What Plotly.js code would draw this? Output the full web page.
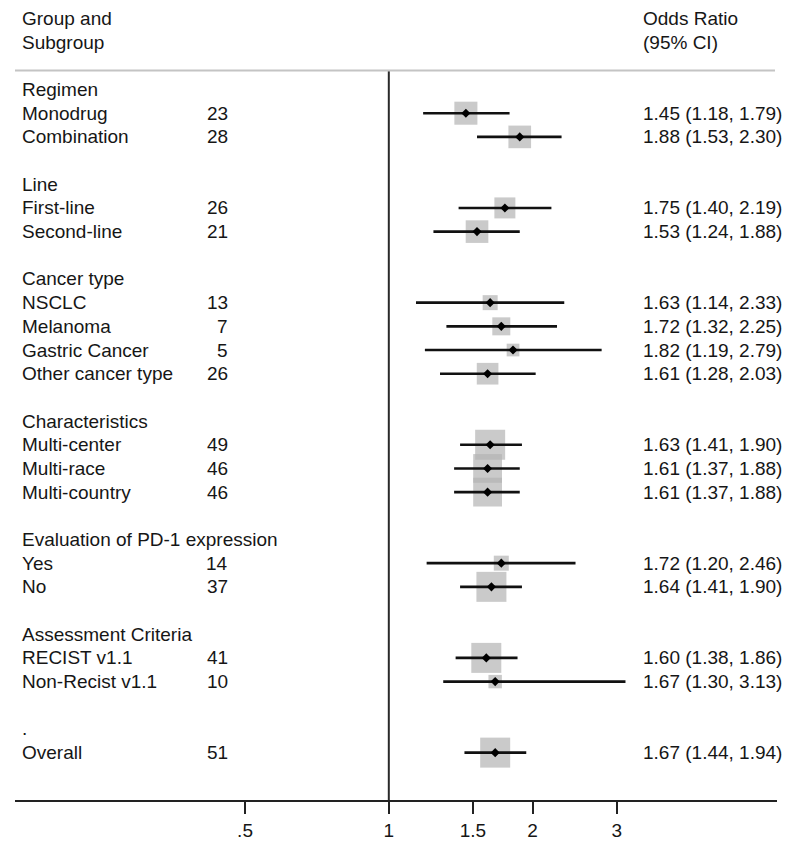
<!DOCTYPE html>
<html>
<head>
<meta charset="utf-8">
<script src="https://cdn.plot.ly/plotly-3.0.1.min.js"></script>
<style>html,body{margin:0;padding:0;background:#fff;}#chart{width:794px;height:841px;}</style>
</head>
<body>
<div id="chart"></div>
<script>
// ---- data ----
const rowLabels = ["Regimen","Monodrug","Combination","",
  "Line","First-line","Second-line","",
  "Cancer type","NSCLC","Melanoma","Gastric Cancer","Other cancer type","",
  "Characteristics","Multi-center","Multi-race","Multi-country","",
  "Evaluation of PD-1 expression","Yes","No","",
  "Assessment Criteria","RECIST v1.1","Non-Recist v1.1","",
  ".","Overall"];
const nStudies = [null,23,28,null, null,26,21,null, null,13,7,5,26,null,
  null,49,46,46,null, null,14,37,null, null,41,10,null, null,51];
const oddsRatio = [null,1.45,1.88,null, null,1.75,1.53,null, null,1.63,1.72,1.82,1.61,null,
  null,1.63,1.61,1.61,null, null,1.72,1.64,null, null,1.60,1.67,null, null,1.67];
const ciLow = [null,1.18,1.53,null, null,1.40,1.24,null, null,1.14,1.32,1.19,1.28,null,
  null,1.41,1.37,1.37,null, null,1.20,1.41,null, null,1.38,1.30,null, null,1.44];
const ciHigh = [null,1.79,2.30,null, null,2.19,1.88,null, null,2.33,2.25,2.79,2.03,null,
  null,1.90,1.88,1.88,null, null,2.46,1.90,null, null,1.86,3.13,null, null,1.94];
// relative study weight (box area)
const weight = [null,59,57,null, null,49,57,null, null,25,36,18,52,null,
  null,100,92,92,null, null,25,100,null, null,100,20,null, null,100];
const tickValues = [0.5,1,1.5,2,3];
const tickLabels = [".5","1","1.5","2","3"];
const headerLeft = ["Group and","Subgroup"];
const headerRight = ["Odds Ratio","(95% CI)"];

// ---- build ----
const rows = rowLabels.map((_, i) => i);
const fmt = v => v.toFixed(2);
const FONT = "Liberation Sans, Arial, Helvetica, sans-serif";
const TXT = "#161616";

const boxX = [], boxY = [], boxS = [];
const lineX = [], lineY = [];
const ptX = [], ptY = [];
rows.forEach(i => {
  if (oddsRatio[i] == null) return;
  boxX.push(oddsRatio[i]); boxY.push(i); boxS.push(30 * Math.sqrt(weight[i] / 100));
  lineX.push(ciLow[i], ciHigh[i], null); lineY.push(i, i, null);
  ptX.push(oddsRatio[i]); ptY.push(i);
});

const traces = [
  {x: [1, 1], y: [-0.8, 30], mode: "lines", line: {color: "#2a2a2a", width: 2}, hoverinfo: "skip", showlegend: false},
  {x: boxX, y: boxY, mode: "markers", marker: {symbol: "square", size: boxS, color: "#b4b4b4", line: {width: 0}}, showlegend: false},
  {x: lineX, y: lineY, mode: "lines", line: {color: "#111", width: 2.6}, showlegend: false},
  {x: ptX, y: ptY, mode: "markers", marker: {symbol: "diamond", size: 7, color: "#000"}, showlegend: false}
];

const L = 15, R = 777, W = 794;
const px2paper = p => (p - L) / (R - L);
const annotations = [];
function addText(text, xp, row, anchor) {
  annotations.push({text: text, xref: "paper", yref: "y", x: px2paper(xp), y: row,
    xanchor: anchor, yanchor: "middle", showarrow: false, borderpad: 0,
    font: {family: FONT, size: 19, color: TXT}});
}
headerLeft.forEach((t, k) => addText(t, 21, -3 + k, "left"));
headerRight.forEach((t, k) => addText(t, 642, -3 + k, "left"));
rows.forEach(i => {
  if (rowLabels[i]) addText(rowLabels[i], 21, i, "left");
  if (nStudies[i] != null) addText(String(nStudies[i]), 229, i, "right");
  if (oddsRatio[i] != null)
    addText(fmt(oddsRatio[i]) + " (" + fmt(ciLow[i]) + ", " + fmt(ciHigh[i]) + ")", 642, i, "left");
});

const layout = {
  width: 794, height: 841,
  margin: {l: L, r: W - R, t: 0, b: 41, pad: 0},
  paper_bgcolor: "#fff", plot_bgcolor: "#fff",
  showlegend: false,
  xaxis: {type: "log", range: [-0.7827, 0.8128], tickvals: tickValues, ticktext: tickLabels,
    ticks: "outside", ticklen: 12, tickwidth: 2, tickcolor: "#222",
    showline: true, linewidth: 2, linecolor: "#222", showgrid: false, zeroline: false,
    tickfont: {family: FONT, size: 19, color: TXT}, fixedrange: true},
  yaxis: {range: [30, -3.78], visible: false, showgrid: false, zeroline: false, fixedrange: true},
  shapes: [{type: "line", xref: "paper", yref: "y", x0: 0, x1: px2paper(775), y0: -0.8, y1: -0.8,
    line: {color: "#c4c4c4", width: 2}}],
  annotations: annotations
};
Plotly.newPlot("chart", traces, layout, {displayModeBar: false, staticPlot: true});
</script>
</body>
</html>
